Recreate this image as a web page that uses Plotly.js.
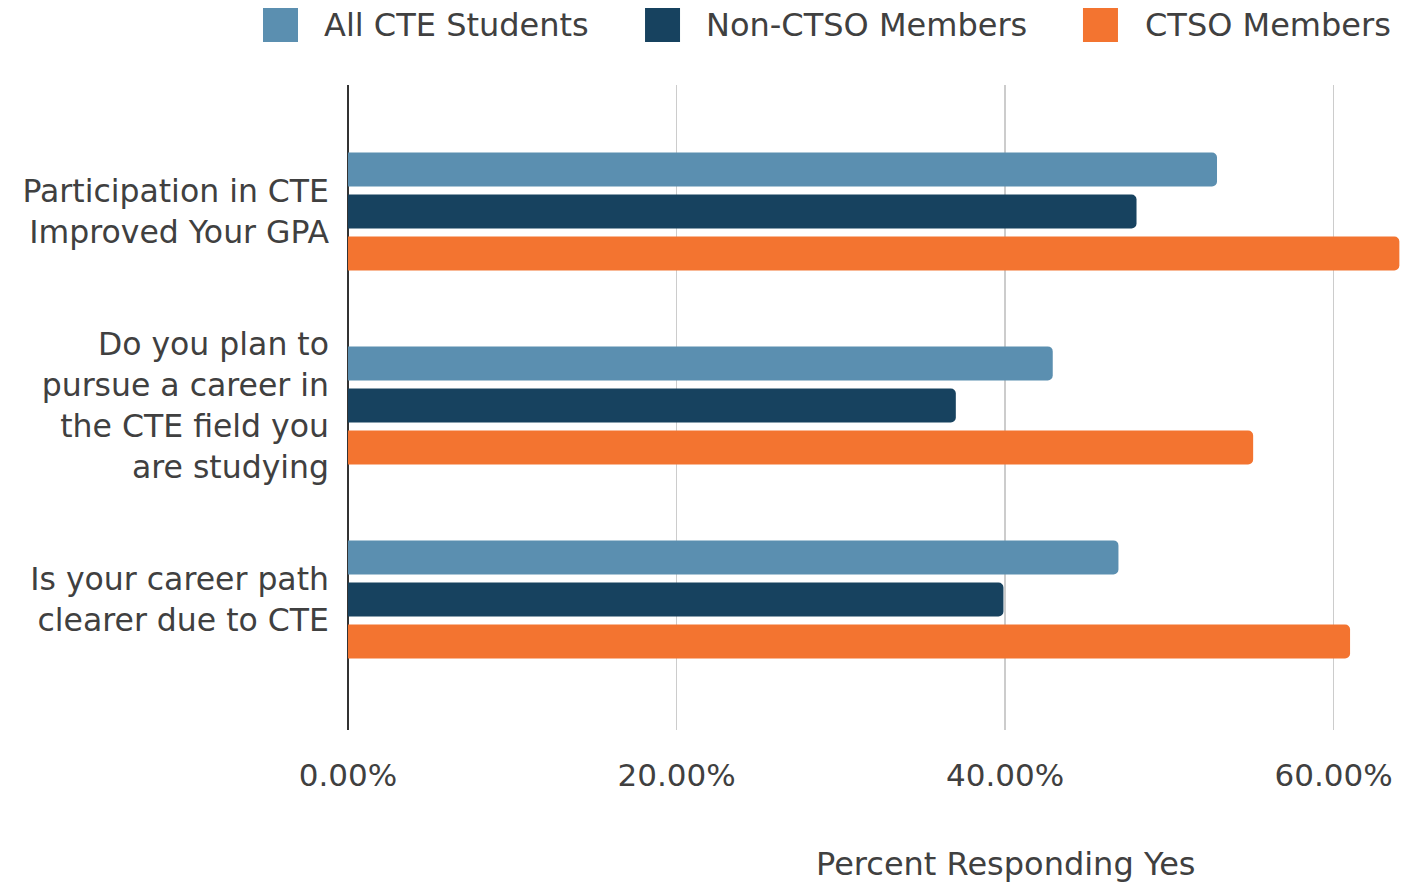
<!DOCTYPE html>
<html>
<head>
<meta charset="utf-8">
<script src="https://cdn.plot.ly/plotly-3.0.1.min.js"></script>
<style>html,body{margin:0;padding:0;background:#fff;}#chart{width:1401px;height:885px;}</style>
</head>
<body>
<div id="chart"></div>
<script>
const categories = [
  "Participation in CTE<br>Improved Your GPA",
  "Do you plan to<br>pursue a career in<br>the CTE field you<br>are studying",
  "Is your career path<br>clearer due to CTE"
];
const seriesNames = ["All CTE Students", "Non-CTSO Members", "CTSO Members"];
const allCTE = [52.9, 42.9, 46.9];
const nonCTSO = [48.0, 37.0, 39.9];
const ctso = [64.0, 55.1, 61.0];
const colors = ["#5b8fb0", "#17425f", "#f37430"];
const xTickVals = [0, 20, 40, 60];
const xTickText = ["0.00%", "20.00%", "40.00%", "60.00%"];
const xTitle = "Percent Responding Yes";

const seriesValues = [allCTE, nonCTSO, ctso];
const traces = seriesValues.map((vals, i) => ({
  type: "bar",
  orientation: "h",
  name: seriesNames[i],
  y: categories,
  x: vals,
  marker: { color: colors[i], line: { width: 0 } },
  hoverinfo: "x+name"
}));

const fontFam = "DejaVu Sans, Liberation Sans, Arial, sans-serif";
const txt = "#404040";

// custom legend (large swatches)
const legendX = [-0.0247, 0.3381, 0.7550];   // text left edges (paper)
const swatchX = [-0.0641, 0.2987, 0.7146];   // swatch centers (paper)
const legendY = 1.093;
const annotations = seriesNames.map((n, i) => ({
  xref: "paper", yref: "paper", x: legendX[i], y: legendY,
  xanchor: "left", yanchor: "middle", showarrow: false,
  text: n, font: { family: fontFam, size: 32, color: txt }
}));
annotations.push({
  xref: "paper", yref: "paper", x: 0.625, y: -0.2078,
  xanchor: "center", yanchor: "middle", showarrow: false,
  text: xTitle, font: { family: fontFam, size: 32, color: txt }
});
const shapes = colors.map((c, i) => ({
  type: "rect", xref: "paper", yref: "paper",
  xsizemode: "pixel", ysizemode: "pixel",
  xanchor: swatchX[i], yanchor: legendY,
  x0: -17.5, x1: 17.5, y0: -17, y1: 17,
  fillcolor: c, line: { width: 0 }
}));

const layout = {
  width: 1401, height: 885,
  margin: { l: 348, r: 0, t: 85, b: 155, pad: 0 },
  paper_bgcolor: "#ffffff", plot_bgcolor: "#ffffff",
  font: { family: fontFam, size: 32, color: txt },
  barmode: "group",
  bargap: 0.35,
  bargroupgap: 0.19,
  barcornerradius: 5,
  showlegend: false,
  xaxis: {
    range: [0, 64.1],
    tickmode: "array",
    tickvals: xTickVals,
    ticktext: xTickText,
    showgrid: true,
    gridcolor: "#cccccc",
    gridwidth: 1.5,
    zeroline: true,
    zerolinecolor: "#333333",
    zerolinewidth: 2,
    showline: false,
    ticks: "",
    ticklabelstandoff: 24,
    tickfont: { family: fontFam, size: 31, color: txt },
    fixedrange: true
  },
  yaxis: {
    type: "category",
    range: [2.673, -0.652],
    showgrid: false,
    zeroline: false,
    showline: false,
    ticks: "",
    ticklabelstandoff: 18,
    tickfont: { family: fontFam, size: 31.5, color: txt },
    fixedrange: true
  },
  annotations: annotations,
  shapes: shapes
};

Plotly.newPlot("chart", traces, layout, { displayModeBar: false, staticPlot: true });
</script>
</body>
</html>
